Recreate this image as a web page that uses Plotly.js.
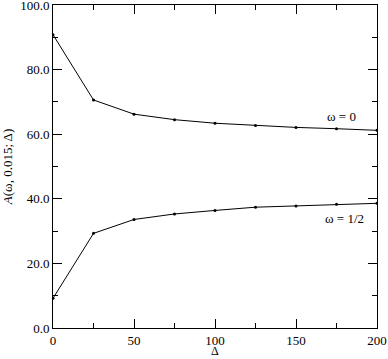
<!DOCTYPE html>
<html>
<head>
<meta charset="utf-8">
<script src="https://cdn.plot.ly/plotly-3.0.1.min.js"></script>
<style>html,body{margin:0;padding:0;background:#fff;}#chart{width:388px;height:359px;}</style>
</head>
<body>
<div id="chart"></div>
<script>
const delta = [0, 25, 50, 75, 100, 125, 150, 175, 200];
const omega0 = [90.8, 70.6, 66.2, 64.5, 63.4, 62.7, 62.1, 61.7, 61.2];
const omegaHalf = [9.2, 29.3, 33.6, 35.3, 36.4, 37.4, 37.8, 38.3, 38.6];
const seriesNames = ['ω = 0', 'ω = 1/2'];
const xTitle = 'Δ';
const yTitle = '<i>A</i>(ω, 0.015; Δ)';

const font = {family: '"Liberation Serif", "Times New Roman", Times, serif', size: 13, color: '#000'};
const lineStyle = {color: '#000', width: 1};
const markerStyle = {color: '#000', size: 3};

const traces = [
  {x: delta, y: omega0, name: seriesNames[0], mode: 'lines+markers', line: lineStyle, marker: markerStyle},
  {x: delta, y: omegaHalf, name: seriesNames[1], mode: 'lines+markers', line: lineStyle, marker: markerStyle}
];

const axisCommon = {
  showgrid: false, zeroline: false, showline: true, linecolor: '#000', linewidth: 1,
  mirror: 'allticks', ticks: 'inside', ticklen: 9, tickcolor: '#000', tickwidth: 1,
  tickfont: font, ticklabeloverflow: 'allow'
};

const layout = {
  width: 388, height: 359,
  margin: {l: 53, r: 11, t: 5, b: 31},
  paper_bgcolor: '#fff', plot_bgcolor: '#fff',
  showlegend: false,
  font: font,
  xaxis: Object.assign({}, axisCommon, {
    range: [0, 200], dtick: 50, tick0: 0,
    minor: {ticks: 'inside', ticklen: 5, dtick: 25, tickcolor: '#000', showgrid: false}
  }),
  yaxis: Object.assign({}, axisCommon, {
    range: [0, 100], dtick: 20, tick0: 0, tickformat: '.1f',
    minor: {ticks: 'inside', ticklen: 5, dtick: 10, tickcolor: '#000', showgrid: false},
    title: {text: yTitle, font: font, standoff: 4}
  }),
  annotations: [
    {x: 178, y: 65.6, xref: 'x', yref: 'y', text: seriesNames[0], showarrow: false, font: font},
    {x: 180, y: 33.9, xref: 'x', yref: 'y', text: seriesNames[1], showarrow: false, font: font},
    {x: 0.5, y: -0.072, xref: 'paper', yref: 'paper', yanchor: 'middle', text: xTitle, showarrow: false,
     font: Object.assign({}, font, {size: 12})}
  ]
};

Plotly.newPlot('chart', traces, layout, {displayModeBar: false, staticPlot: true});
</script>
</body>
</html>
